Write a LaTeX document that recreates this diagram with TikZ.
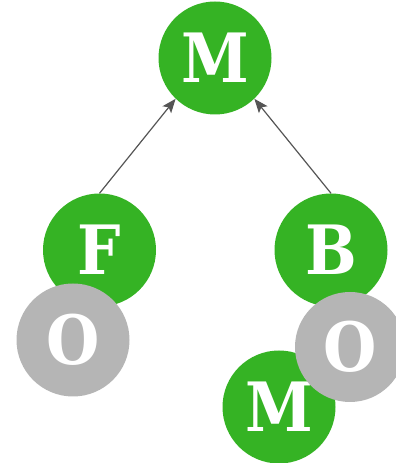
\documentclass[tikz,border=0pt]{standalone}
\usepackage{fontspec}
\setmainfont{DejaVu Serif Condensed}
\usetikzlibrary{arrows.meta}
\definecolor{leafgreen}{HTML}{35B324}
\definecolor{stonegray}{HTML}{B5B5B5}
\definecolor{linkgray}{HTML}{555555}
\tikzset{
    x=1pt, y=1pt, % one unit is one pixel of the picture
    letter/.style={circle, minimum size=113pt, inner sep=0pt, text=white,
        font=\fontsize{68}{68}\selectfont\bfseries}, % every round letter
    greenletter/.style={letter, fill=leafgreen},
    grayletter/.style={letter, fill=stonegray},
    link/.style={draw=linkgray, line width=1.2pt, -{Stealth[length=14pt,width=11pt,inset=3pt]}}, % the arrows
}
\begin{document}
\begin{tikzpicture}
                  \useasboundingbox (0,0) rectangle (396,463);
                  \node[greenletter] (m1) at (215,405) {M};
                  \node[greenletter] (f) at (99.5,213) {F};
                  \node[greenletter] (b) at (331,213) {B};
                  \node[greenletter] (m2) at (279,56) {M};
                  \node[grayletter] (o1) at (73,123) {O};
                  \node[grayletter, minimum size=110pt] (o2) at (350,116) {O};
                  \draw (f.north) edge[link] (m1.-134)
                  (b.north) edge[link] (m1.-46);
              \end{tikzpicture}
\end{document}
